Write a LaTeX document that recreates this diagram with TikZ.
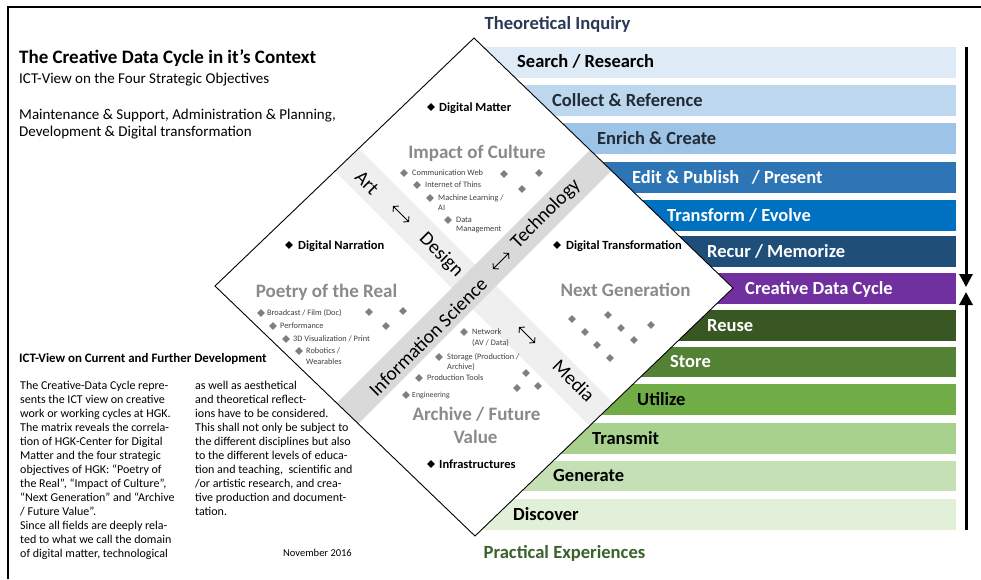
\documentclass[tikz,border=0pt]{standalone}
\usepackage{fontspec}
\setmainfont{Carlito}
\usetikzlibrary{arrows.meta,shapes.geometric,calc}
\definecolor{cA}{HTML}{DEEBF7}
\definecolor{cB}{HTML}{BDD7EE}
\definecolor{cC}{HTML}{9DC3E6}
\definecolor{cD}{HTML}{2E75B6}
\definecolor{cE}{HTML}{0070C0}
\definecolor{cF}{HTML}{1F4E79}
\definecolor{cG}{HTML}{7030A0}
\definecolor{cH}{HTML}{385723}
\definecolor{cI}{HTML}{548235}
\definecolor{cJ}{HTML}{70AD47}
\definecolor{cK}{HTML}{A9D18E}
\definecolor{cL}{HTML}{C5E0B4}
\definecolor{cM}{HTML}{E2F0D9}
\definecolor{darkslate}{HTML}{222A35}
\definecolor{theoc}{HTML}{2A3A55}
\definecolor{pracc}{HTML}{38632A}
\definecolor{qgray}{HTML}{8A8A8A}
\definecolor{itemc}{HTML}{404040}
\definecolor{gdiac}{HTML}{7F7F7F}
\definecolor{bandlight}{HTML}{EFEFEF}
\definecolor{banddark}{HTML}{D9D9D9}
\tikzset{
  bartxt/.style={anchor=base west, inner sep=0pt, font=\fontsize{18.5}{22}\selectfont\bfseries},
  quad/.style={anchor=base, inner sep=0pt, text=qgray, font=\fontsize{19}{22}\selectfont\bfseries},
  bandtxt/.style={inner sep=0pt, font=\fontsize{19.5}{22}\selectfont},
  item/.style={anchor=base west, inner sep=0pt, text=itemc, font=\fontsize{8.3}{10}\selectfont},
  gdia/.style={shape=diamond, aspect=1, fill=gdiac, inner sep=0pt, minimum size=8pt},
  bdia/.style={shape=diamond, aspect=1, fill=black, inner sep=0pt, minimum size=8pt},
  dtxt/.style={anchor=base west, inner sep=0pt, font=\fontsize{12.5}{15}\selectfont\bfseries},
  para/.style={anchor=base west, inner sep=0pt, font=\fontsize{12}{14}\selectfont},
  head/.style={anchor=base west, inner sep=0pt},
  dblarrow/.style={line width=0.9pt, {Straight Barb[length=3.5pt,width=8pt]}-{Straight Barb[length=3.5pt,width=8pt]}},
  cyclearrow/.style={line width=3pt, -{Triangle[length=13pt,width=13pt]}},
}
\begin{document}
\begin{tikzpicture}[x=1pt,y=-1pt]
\useasboundingbox (0,0) rectangle (981,579);
\fill[white] (0,0) rectangle (981,579);
% frame
\draw[line width=1.3pt] (8,579) -- (8,7) -- (981,7);

% bars
\fill[cA] (474,47) rectangle (956,77.5);
\fill[cB] (474,85) rectangle (956,116);
\fill[cC] (474,123) rectangle (956,154);
\fill[cD] (474,162) rectangle (956,193);
\fill[cE] (474,200) rectangle (956,231);
\fill[cF] (474,235.5) rectangle (956,267);
\fill[cG] (474,273) rectangle (956,303.5);
\fill[cH] (474,310) rectangle (956,340.5);
\fill[cI] (474,346.5) rectangle (956,377);
\fill[cJ] (474,384) rectangle (956,415);
\fill[cK] (474,423) rectangle (956,453.5);
\fill[cL] (474,460.5) rectangle (956,491);
\fill[cM] (474,499) rectangle (956,529.5);

% diamond
\coordinate (T) at (474,38);
\coordinate (R) at (733,288);
\coordinate (B) at (475,536);
\coordinate (L) at (215,286);
\coordinate (C) at (474,287);
\fill[white] (T) -- (R) -- (B) -- (L) -- cycle;
\begin{scope}
  \clip (T) -- (R) -- (B) -- (L) -- cycle;
  \fill[bandlight, rotate around={-45:(C)}] ($(C)+(-400,-16.5)$) rectangle ($(C)+(400,16.5)$);
  \fill[banddark, rotate around={45:(C)}] ($(C)+(-400,-15)$) rectangle ($(C)+(400,15)$);
\end{scope}
\draw[line width=0.9pt] (T) -- (R) -- (B) -- (L) -- cycle;

% bar texts
\node[bartxt] (b1) at (517,67.5) {Search / Research};
\node[bartxt, text=darkslate] (b2) at (552,106) {Collect \& Reference};
\node[bartxt, text=darkslate] (b3) at (597,144) {Enrich \& Create};
\node[bartxt, text=white] (b4) at (632,183) {Edit \& Publish\hspace{0.45em} / Present};
\node[bartxt, text=white] (b5) at (667,221) {Transform / Evolve};
\node[bartxt, text=white] (b6) at (707,257) {Recur / Memorize};
\node[bartxt, text=white] (b7) at (745,294) {Creative Data Cycle};
\node[bartxt, text=white] (b8) at (707,331) {Reuse};
\node[bartxt, text=white] (b9) at (670,367) {Store};
\node[bartxt] (b10) at (637,405.5) {Utilize};
\node[bartxt] (b11) at (592,444) {Transmit};
\node[bartxt] (b12) at (553,481.5) {Generate};
\node[bartxt] (b13) at (513,520) {Discover};

% cycle arrows
\coordinate (atop) at (966,47);
\coordinate (amid1) at (966,287);
\coordinate (amid2) at (966,292);
\coordinate (abot) at (966,529.5);
\draw[cyclearrow] (atop) -- (amid1);
\draw[cyclearrow] (abot) -- (amid2);

% axis labels
\node[anchor=base, inner sep=0pt, text=theoc, font=\fontsize{18.6}{22}\selectfont\bfseries] (theo) at (557.5,29.5) {Theoretical Inquiry};
\node[anchor=base, inner sep=0pt, text=pracc, font=\fontsize{18.6}{22}\selectfont\bfseries] (prac) at (564.5,558.5) {Practical Experiences};

% quadrant labels
\node[quad] (q1) at (477,158.5) {Impact of Culture};
\node[quad] (q2) at (326.5,297.5) {Poetry of the Real};
\node[quad] (q3) at (625.5,296.5) {Next Generation};
\node[quad] (q4) at (476.5,420.5) {Archive / Future};
\node[quad] (q5) at (475.5,443.5) {Value};

% band texts
\node[bandtxt, rotate=-45] (art) at (367,183) {Art};
\node[bandtxt, rotate=-45] (design) at (441,255) {Design};
\node[bandtxt, rotate=-45] (media) at (574,381) {Media};
\node[bandtxt, rotate=45] (infsci) at (428,337) {Information Science};
\node[bandtxt, rotate=45] (tech) at (546,214) {Technology};

% double arrows
\coordinate (a1s) at (393,206); \coordinate (a1e) at (409,222);
\coordinate (a2s) at (493,269); \coordinate (a2e) at (509,253);
\coordinate (a3s) at (519,327); \coordinate (a3e) at (535,343);
\draw[dblarrow] (a1s) -- (a1e);
\draw[dblarrow] (a2s) -- (a2e);
\draw[dblarrow] (a3s) -- (a3e);

% black bullets
\node[bdia] (d1) at (431,107) {};
\node[dtxt] (t1) at (439,111) {Digital Matter};
\node[bdia] (d2) at (289,245) {};
\node[dtxt] (t2) at (298,249) {Digital Narration};
\node[bdia] (d3) at (557,245) {};
\node[dtxt] (t3) at (566,249) {Digital Transformation};
\node[bdia] (d4) at (431,464) {};
\node[dtxt] (t4) at (439,468) {Infrastructures};

% Impact of Culture items
\node[gdia] (ic1) at (404,173) {};
\node[item] at (412,175.6) {Communication Web};
\node[gdia] (ic2) at (417,185) {};
\node[item] at (425,187.6) {Internet of Thins};
\node[gdia] (ic3) at (430,198) {};
\node[item] at (438,200.6) {Machine Learning /};
\node[item] at (438,210.6) {AI};
\node[gdia] (ic4) at (448,220) {};
\node[item] at (456,222.6) {Data};
\node[item] at (456,231.6) {Management};
\node[gdia] at (504,174) {};
\node[gdia] at (539,173) {};
\node[gdia] at (522,189) {};

% Poetry of the Real items
\node[gdia] (pr1) at (261,313) {};
\node[item] at (267,315.6) {Broadcast / Film (Doc)};
\node[gdia] (pr2) at (273,326) {};
\node[item] at (280,328.6) {Performance};
\node[gdia] (pr3) at (286,339) {};
\node[item] at (293,341.6) {3D Visualization / Print};
\node[gdia] (pr4) at (299,351) {};
\node[item] at (306,353.6) {Robotics /};
\node[item] at (306,364.6) {Wearables};
\node[gdia] at (369,312) {};
\node[gdia] at (403,311) {};
\node[gdia] at (386,326) {};

% Archive items
\node[gdia] (av1) at (464,332) {};
\node[item] at (472,334.6) {Network};
\node[item] at (472,345.6) {(AV / Data)};
\node[gdia] (av2) at (439,357) {};
\node[item] at (447,359.6) {Storage (Production /};
\node[item] at (447,369.6) {Archive)};
\node[gdia] (av3) at (419,378) {};
\node[item] at (427,380.6) {Production Tools};
\node[gdia] (av4) at (406,395) {};
\node[item, font=\fontsize{7.8}{10}\selectfont] at (412,397.6) {Engineering};
\node[gdia] at (526,373) {};
\node[gdia] at (517,388) {};
\node[gdia] at (538,386) {};

% Next Generation bullets
\foreach \p in {(572,319),(608,315),(585,332),(621,328),(651,325),(597,345),(634,340),(610,358)}
  \node[gdia] at \p {};

% top-left texts
\node[head, font=\fontsize{19}{22}\selectfont\bfseries] (title) at (19,63.5) {The Creative Data Cycle in it’s Context};
\node[head, font=\fontsize{15}{17}\selectfont] (sub1) at (19,83.5) {ICT-View on the Four Strategic Objectives};
\node[head, font=\fontsize{15}{17}\selectfont] (sub2) at (19,119.5) {Maintenance \& Support, Administration \& Planning,};
\node[head, font=\fontsize{15}{17}\selectfont] (sub3) at (19,136.5) {Development \& Digital transformation};

% bottom-left texts
\node[head, font=\fontsize{12.9}{15}\selectfont\bfseries] (h2) at (19,362) {ICT-View on Current and Further Development};
\foreach \t [count=\i from 0] in {{The Creative-Data Cycle repre-},{sents the ICT view on creative},{work or working cycles at HGK.},{The matrix reveals the correla-},{tion of HGK-Center for Digital},{Matter and the four strategic},{objectives of HGK: “Poetry of},{the Real”, “Impact of Culture”,},{“Next Generation” and “Archive},{/ Future Value”.},{Since all fields are deeply rela-},{ted to what we call the domain},{of digital matter, technological}}
  \node[para] at (20,389.5+14*\i) {\t};
\foreach \t [count=\i from 0] in {{as well as aesthetical},{and theoretical reflect-},{ions have to be considered.},{This shall not only be subject to},{the different disciplines but also},{to the different levels of educa-},{tion and teaching,\ \ scientific and},{/or artistic research, and crea-},{tive production and document-},{tation.}}
  \node[para] at (195,389.5+14*\i) {\t};
\node[para, font=\fontsize{10.5}{13}\selectfont] (nov) at (283,556.5) {November 2016};
\end{tikzpicture}
\end{document}
